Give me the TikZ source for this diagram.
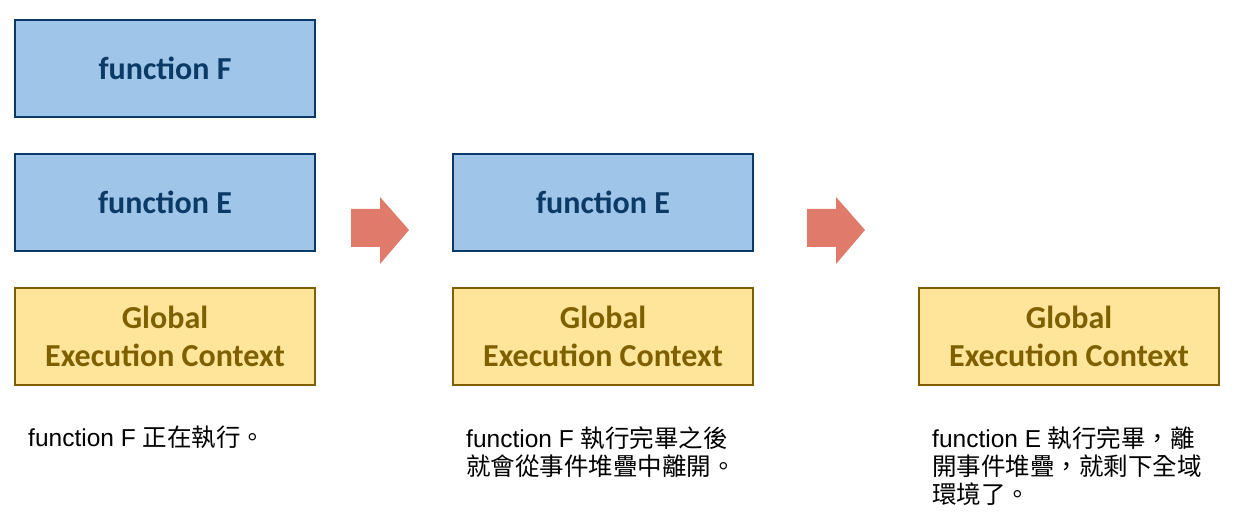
\documentclass[tikz,border=0pt]{standalone}
\usepackage{fontspec}
\setmainfont{Liberation Sans}
\newfontfamily\cjk{Noto Sans CJK TC}
\newfontfamily\calibri{Carlito}
\definecolor{stackblue}{HTML}{9FC5E8}
\definecolor{stackline}{HTML}{0B3A66}
\definecolor{globalyellow}{HTML}{FFE599}
\definecolor{globalline}{HTML}{7F6000}
\definecolor{arrowred}{HTML}{E07B6B}
\newcommand{\zh}[1]{{\cjk #1}}
\newcommand{\lowered}[1]{\raisebox{-5pt}{#1}}
\begin{document}
\begin{tikzpicture}[x=1pt,y=1pt,
    frame/.style={draw, line width=2pt, minimum width=300pt, minimum height=97pt,
        inner sep=0pt, align=center, font=\calibri\bfseries\fontsize{32}{38}\selectfont},
    funcbox/.style={frame, draw=stackline, fill=stackblue, text=stackline},
    globalbox/.style={frame, draw=globalline, fill=globalyellow, text=globalline},
    caption/.style={anchor=north west, inner sep=0pt, align=left,
        font=\fontsize{24.5}{28}\selectfont},
    flowarrow/.style={fill=arrowred}]
    \useasboundingbox (0,0) rectangle (1236,520);
    % global contexts
    \foreach \x/\n in {165/g1, 603/g2, 1069/g3} {
        \node[globalbox] (\n) at (\x,183.5) {\lowered{Global}\\\lowered{Execution Context}};
    }
    % function contexts
    \node[funcbox] (e1) at (165,317.5) {\lowered{function E}};
    \node[funcbox] (f1) at (165,451.5) {\lowered{function F}};
    \node[funcbox] (e2) at (603,317.5) {\lowered{function E}};
    % arrows
    \foreach \x in {351, 807} {
        \fill[flowarrow] (\x,311) -- ++(29,0) -- ++(0,12) -- ++(29,-33)
            -- ++(-29,-34) -- ++(0,17) -- ++(-29,0) -- cycle;
    }
    % captions
    \node[caption] (c1) at (28,94) {function F \zh{正在執行。}};
    \node[caption] (c2) at (466,94) {function F \zh{執行完畢之後}\\\zh{就會從事件堆疊中離開。}};
    \node[caption] (c3) at (932,94) {function E \zh{執行完畢，離}\\\zh{開事件堆疊，就剩下全域}\\\zh{環境了。}};
\end{tikzpicture}
\end{document}
